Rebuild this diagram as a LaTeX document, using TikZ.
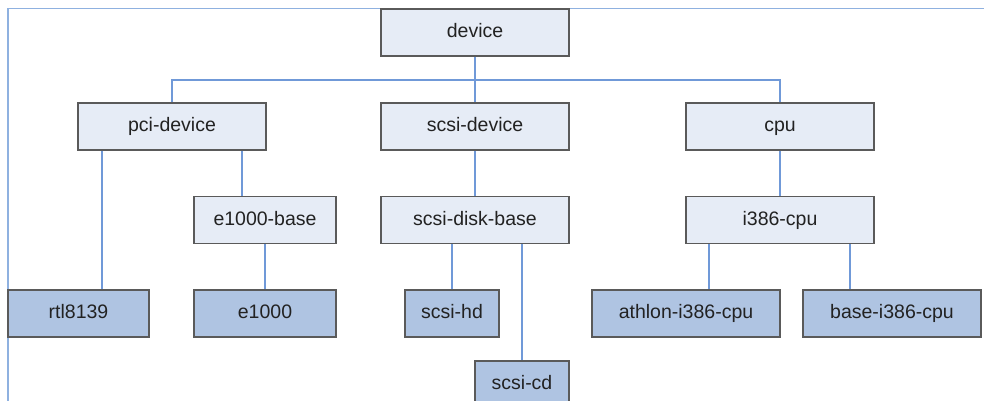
\documentclass[tikz,border=0pt]{standalone}
\usepackage{fontspec}
\setmainfont{Liberation Sans}
\definecolor{boxline}{HTML}{5A5A5A}
\definecolor{lightfill}{HTML}{E6ECF6}
\definecolor{darkfill}{HTML}{AFC4E2}
\definecolor{linkcol}{HTML}{7099D8}
\definecolor{framecol}{HTML}{8FB1E0}
\definecolor{txt}{HTML}{222222}
\tikzset{
  cls/.style={draw=boxline, line width=1.4pt, rectangle, inner sep=0pt,
    minimum height=47pt, text height=14pt, text depth=4pt, text=txt,
    font=\fontsize{19.5}{22}\selectfont},
  abstract/.style={cls, fill=lightfill},
  concrete/.style={cls, fill=darkfill},
  link/.style={draw=linkcol, line width=1.4pt},
}
\begin{document}
\begin{tikzpicture}[x=1pt, y=-1pt]
\useasboundingbox (0,0) rectangle (984,401);
\clip (0,0) rectangle (984,401);
% outer frame
\draw[framecol, line width=1.3pt] (8,405) -- (8,8.5) -- (990,8.5);

% class boxes
\node[abstract, minimum width=188pt] (device) at (475,32.5) {device};
\node[abstract, minimum width=188pt] (pci)    at (172,126.5)  {pci-device};
\node[abstract, minimum width=188pt] (scsi)   at (475,126.5) {scsi-device};
\node[abstract, minimum width=188pt] (cpu)    at (780,126.5) {cpu};
\node[abstract, minimum width=142pt] (ebase)  at (265,220)    {e1000-base};
\node[abstract, minimum width=188pt] (disk)   at (475,220)  {scsi-disk-base};
\node[abstract, minimum width=188pt] (i386)   at (780,220)  {i386-cpu};
\node[concrete, minimum width=141pt] (rtl)    at (78.5,313.5) {rtl8139};
\node[concrete, minimum width=142pt] (e1000)  at (265,313.5)  {e1000};
\node[concrete, minimum width=94pt]  (hd)     at (452,313.5)  {scsi-hd};
\node[concrete, minimum width=94pt]  (cd)     at (522,384.5)  {scsi-cd};
\node[concrete, minimum width=188pt] (athlon) at (686,313.5)  {athlon-i386-cpu};
\node[concrete, minimum width=178pt] (basecpu) at (892,313.5) {base-i386-cpu};

% connector anchors
\coordinate (bus) at (475,80);
\coordinate (xrtl) at (102,0);
\coordinate (xeb) at (242,0);
\coordinate (xath) at (709,0);
\coordinate (xbase) at (850,0);

% connectors
\path[link] (device.south) -- (scsi.north);
\path[link] (pci.north) -- (pci.north |- bus) -- (cpu.north |- bus) -- (cpu.north);
\path[link] (xrtl |- pci.south) -- (xrtl |- rtl.north);
\path[link] (xeb |- pci.south) -- (xeb |- ebase.north);
\path[link] (ebase.south) -- (e1000.north);
\path[link] (scsi.south) -- (disk.north);
\path[link] (hd.north |- disk.south) -- (hd.north);
\path[link] (cd.north |- disk.south) -- (cd.north);
\path[link] (cpu.south) -- (i386.north);
\path[link] (xath |- i386.south) -- (xath |- athlon.north);
\path[link] (xbase |- i386.south) -- (xbase |- basecpu.north);
\end{tikzpicture}
\end{document}
